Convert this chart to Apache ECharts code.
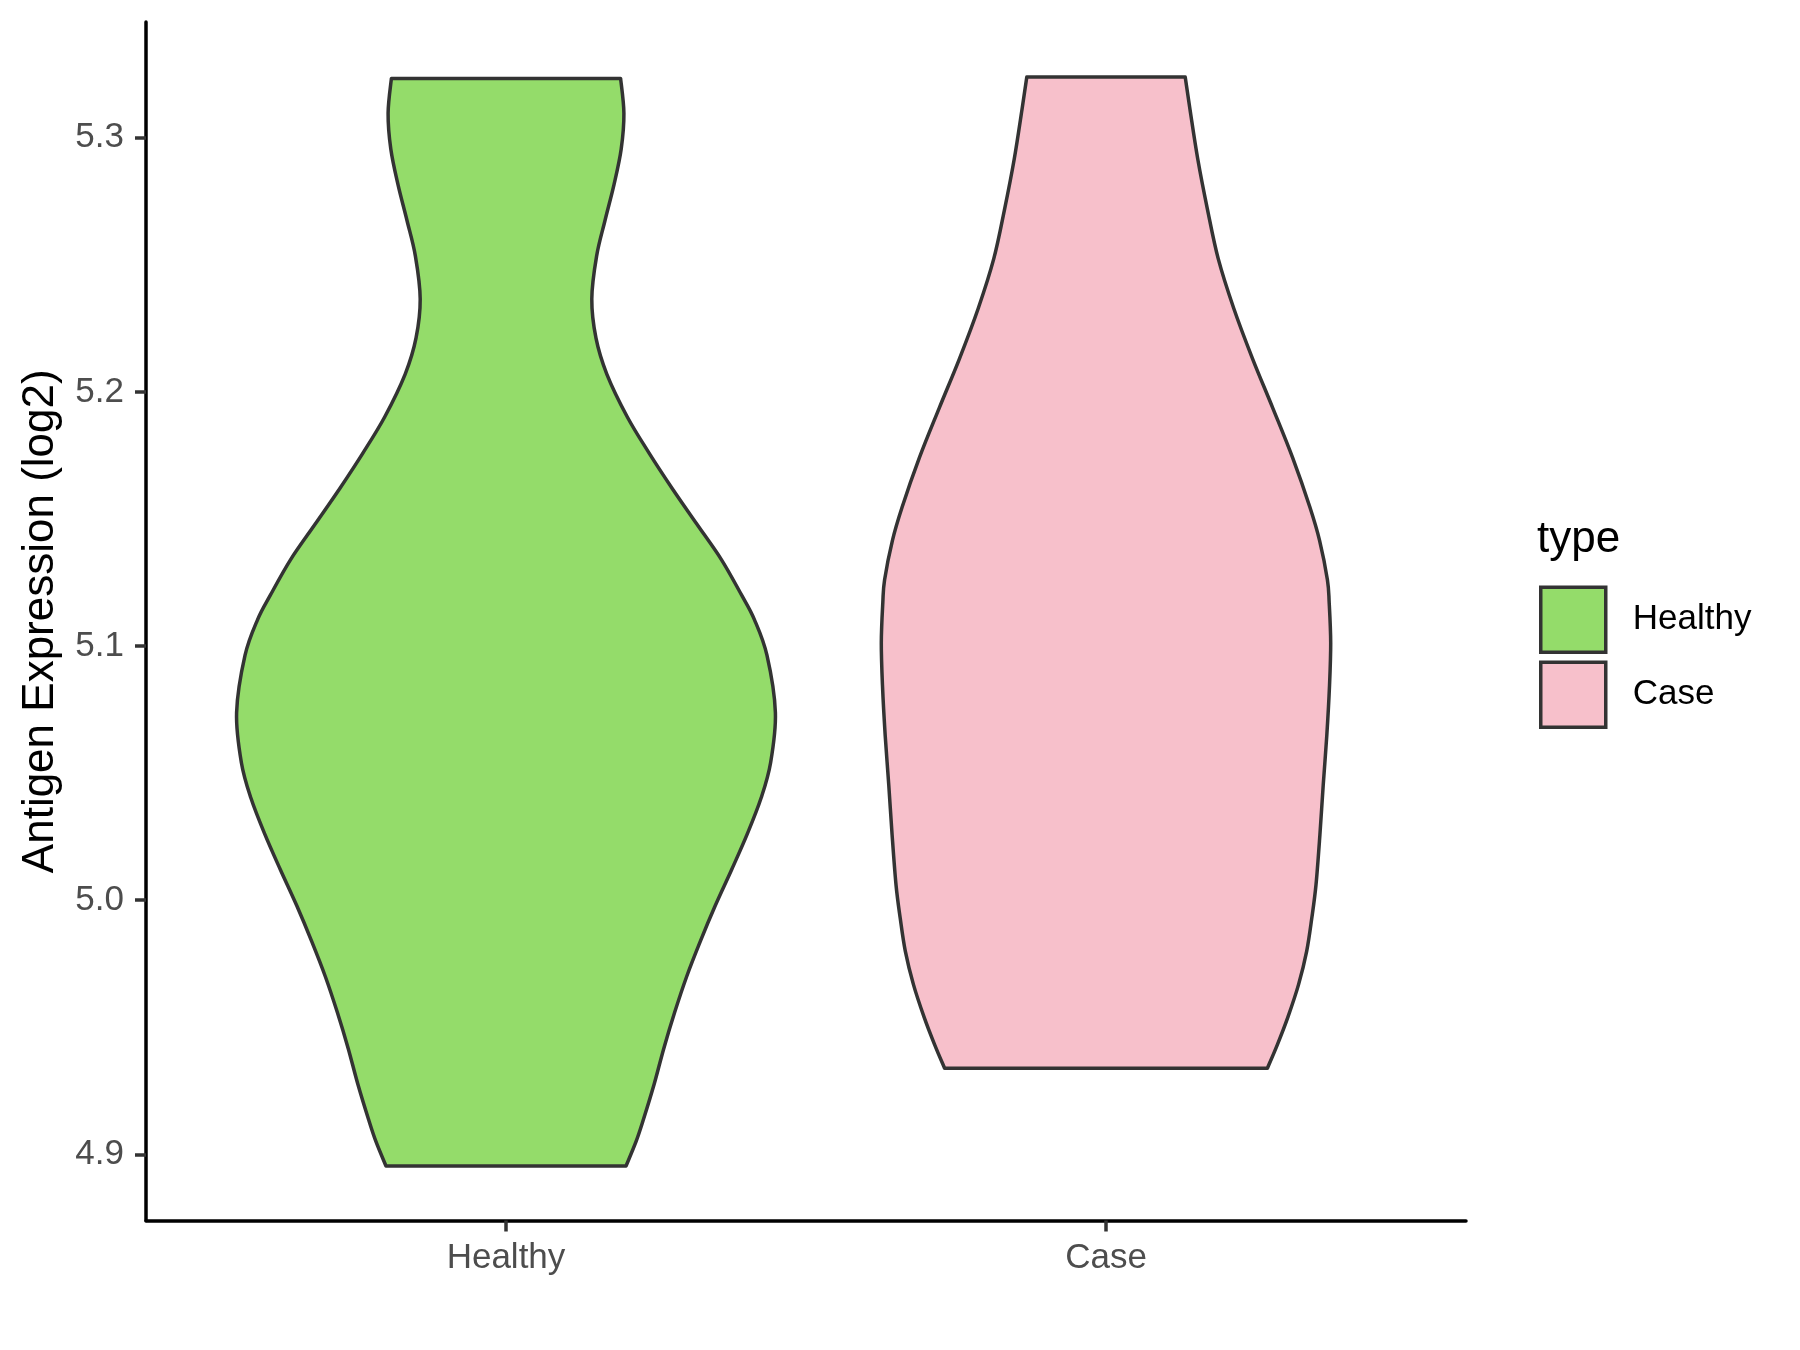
<!DOCTYPE html>
<html>
<head>
<meta charset="utf-8">
<script src="https://cdn.jsdelivr.net/npm/echarts@6/dist/echarts.min.js"></script>
<style>
  html, body { margin: 0; padding: 0; background: #ffffff; }
  #chart { width: 1800px; height: 1350px; }
</style>
</head>
<body>
<div id="chart"></div>
<script>
// ---- Data ----
const categories = ['Healthy', 'Case'];
const yTicks = [4.9, 5.0, 5.1, 5.2, 5.3];

// Violin outlines: y values (expression) and half-widths (in category-axis units)
const healthyY = [5.3233, 5.3096, 5.2955, 5.2815, 5.2674, 5.2534, 5.2365, 5.2211, 5.2070,
  5.1902, 5.1761, 5.1620, 5.1480, 5.1340, 5.1199, 5.1104, 5.0963, 5.0738, 5.0541, 5.0401,
  5.0260, 5.0120, 4.9980, 4.9839, 4.9699, 4.9558, 4.9417, 4.9277, 4.9137, 4.9052, 4.8954];
const healthyHalfWidth = [0.191, 0.1965, 0.192, 0.180, 0.165, 0.151, 0.143, 0.150, 0.168,
  0.202, 0.238, 0.277, 0.318, 0.359, 0.393, 0.414, 0.435, 0.449, 0.441, 0.425,
  0.402, 0.376, 0.349, 0.324, 0.301, 0.281, 0.263, 0.247, 0.229, 0.217, 0.200];

const caseY = [5.3239, 5.3111, 5.2915, 5.2719, 5.2524, 5.2328, 5.2132, 5.1936, 5.1741,
  5.1545, 5.1415, 5.1261, 5.1170, 5.1013, 5.0843, 5.0648, 5.0452, 5.0257, 5.0061,
  4.9930, 4.9800, 4.9669, 4.9539, 4.9434, 4.9339];
const caseHalfWidth = [0.132, 0.140, 0.153, 0.169, 0.187, 0.213, 0.244, 0.278, 0.311,
  0.340, 0.356, 0.369, 0.372, 0.3745, 0.3725, 0.368, 0.362, 0.3565, 0.350,
  0.343, 0.3345, 0.321, 0.303, 0.286, 0.269];

const violinY = [healthyY, caseY];
const violinW = [healthyHalfWidth, caseHalfWidth];
const fillColors = ['#94DC6A', '#F7C0CB'];

const FONT = '"Liberation Sans", Arial, Helvetica, sans-serif';

// Smooth curve (Catmull-Rom drawn as cubic Bezier) through the projected outline points
function curveThrough(pts) {
  let d = '';
  for (let i = 0; i < pts.length - 1; i++) {
    const p0 = pts[Math.max(i - 1, 0)], p1 = pts[i], p2 = pts[i + 1], p3 = pts[Math.min(i + 2, pts.length - 1)];
    const c1x = p1[0] + (p2[0] - p0[0]) / 6, c1y = p1[1] + (p2[1] - p0[1]) / 6;
    const c2x = p2[0] - (p3[0] - p1[0]) / 6, c2y = p2[1] - (p3[1] - p1[1]) / 6;
    d += ' C' + c1x.toFixed(2) + ',' + c1y.toFixed(2) + ' ' + c2x.toFixed(2) + ',' + c2y.toFixed(2) + ' ' + p2[0].toFixed(2) + ',' + p2[1].toFixed(2);
  }
  return d;
}

function makeRender(idx) {
  return function (params, api) {
    const ys = violinY[idx], ws = violinW[idx];
    const cx = idx + 1;
    const right = [], left = [];
    for (let i = 0; i < ys.length; i++) right.push(api.coord([cx + ws[i], ys[i]]));
    for (let i = ys.length - 1; i >= 0; i--) left.push(api.coord([cx - ws[i], ys[i]]));
    let d = 'M' + right[0][0].toFixed(2) + ',' + right[0][1].toFixed(2);
    d += curveThrough(right);
    d += ' L' + left[0][0].toFixed(2) + ',' + left[0][1].toFixed(2);
    d += curveThrough(left);
    d += ' Z';
    return {
      type: 'path',
      shape: { pathData: d },
      style: { fill: fillColors[idx], stroke: '#333333', lineWidth: 3.5, lineJoin: 'round' }
    };
  };
}

const chart = echarts.init(document.getElementById('chart'), null, { renderer: 'canvas' });
chart.setOption({
  backgroundColor: '#ffffff',
  animation: false,
  grid: { left: 146, right: 334, top: 22, bottom: 129.5, containLabel: false },
  xAxis: {
    type: 'value', min: 0.4, max: 2.6,
    axisLine: { show: true, onZero: false, lineStyle: { color: '#000000', width: 3.5 } },
    axisTick: { show: true, customValues: [1, 2], length: 11, lineStyle: { color: '#333333', width: 3.5 } },
    axisLabel: {
      show: true, customValues: [1, 2],
      formatter: v => categories[Math.round(v) - 1] || '',
      color: '#4D4D4D', fontSize: 35, fontFamily: FONT, margin: 20
    },
    splitLine: { show: false }
  },
  yAxis: {
    type: 'value', min: 4.874, max: 5.3455,
    name: 'Antigen Expression (log2)', nameLocation: 'middle', nameGap: 83,
    nameTextStyle: { color: '#000000', fontSize: 44, fontFamily: FONT },
    axisLine: { show: true, onZero: false, lineStyle: { color: '#000000', width: 3.5 } },
    axisTick: { show: true, customValues: yTicks, length: 11, lineStyle: { color: '#333333', width: 3.5 } },
    axisLabel: {
      show: true, customValues: yTicks,
      formatter: v => Number(v).toFixed(1),
      color: '#4D4D4D', fontSize: 35, fontFamily: FONT, margin: 22
    },
    splitLine: { show: false }
  },
  legend: {
    orient: 'vertical', left: 1539, top: 585.5, padding: 0,
    icon: 'rect', itemWidth: 65, itemHeight: 65, itemGap: 6.5,
    itemStyle: { borderColor: '#333333', borderWidth: 3.5 },
    textStyle: { color: '#000000', fontSize: 35, fontFamily: FONT, padding: [0, 0, 0, 22] },
    data: categories
  },
  graphic: [{
    type: 'text', left: 1537, top: 518,
    style: { text: 'type', fill: '#000000', font: '44px ' + FONT }
  }],
  series: categories.map((name, idx) => ({
    type: 'custom', name: name,
    itemStyle: { color: fillColors[idx], borderColor: '#333333', borderWidth: 3.5 },
    renderItem: makeRender(idx),
    data: [[idx + 1, violinY[idx][0]]],
    clip: false
  }))
});
</script>
</body>
</html>
